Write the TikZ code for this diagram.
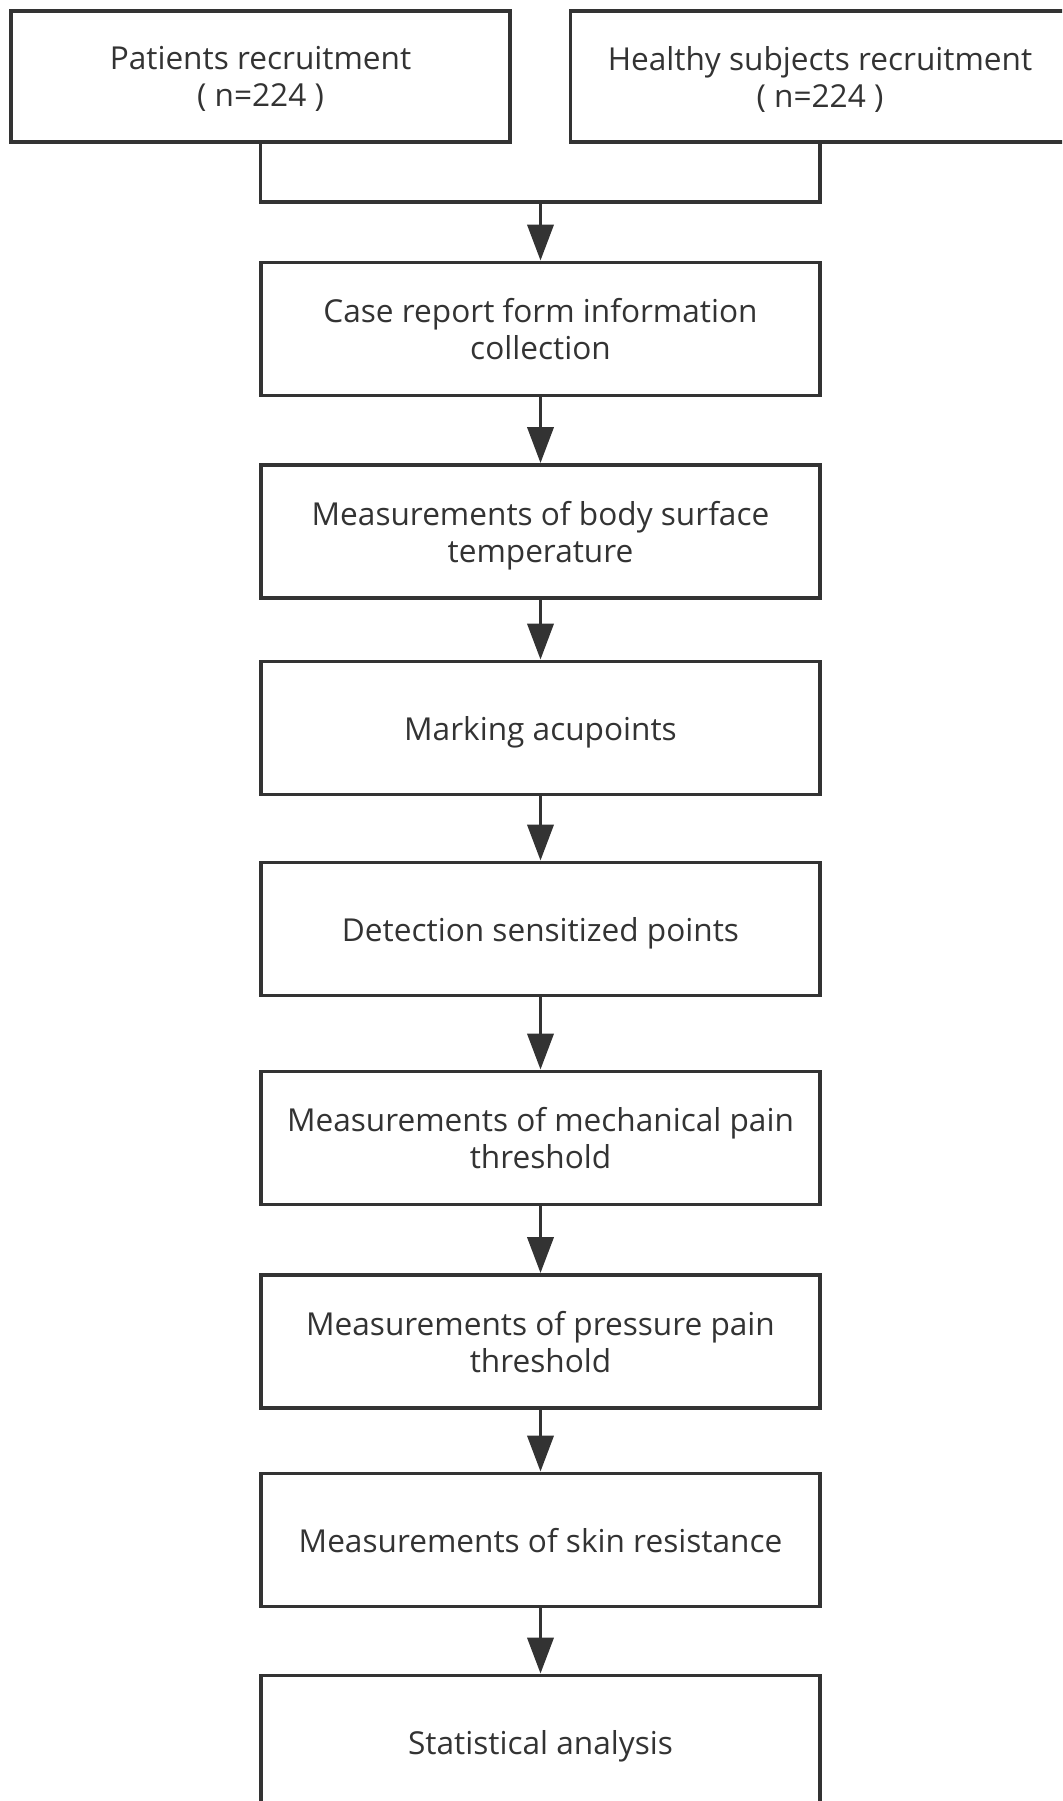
\documentclass[tikz,border=0pt]{standalone}
\usepackage{fontspec}
\setmainfont{Open Sans}
\usetikzlibrary{arrows.meta}
\definecolor{ink}{HTML}{333333}

\begin{document}
\begin{tikzpicture}
      [x = 0.5pt, y = -0.5pt,
      line/.style = {
         draw = ink,
         line width = 1.9pt
      },
      arrow/.style = {
         line,
         -{Triangle[length = 18pt, width = 13pt]}
      },
      stepbox/.style = {
         line,
         rectangle,
         align = center,
         text = ink,
         font = \fontsize{15.8pt}{18.5pt}\selectfont,
         text depth = 0pt,
         inner sep = 0pt,
         minimum width = 279.5pt,
         minimum height = 66.5pt
      },
      groupbox/.style = {
         stepbox,
         minimum width = 249.5pt,
         minimum height = 65.5pt
      }]
      \useasboundingbox (0, 0) rectangle (1062, 1801);
      \clip (0, 0) rectangle (1062, 1801);

      % recruitment
      \node[groupbox] (patients) at (260.5, 76.5) {Patients recruitment\\( n=224 )};
      \node[groupbox] (healthy) at (820, 76.5) {Healthy subjects recruitment\\( n=224 )};

      % procedure
      \node[stepbox] (crf) at (540.5, 329) {Case report form information\\collection};
      \node[stepbox] (temp) at (540.5, 531.5) {Measurements of body surface\\temperature};
      \node[stepbox] (mark) at (540.5, 728) {Marking acupoints};
      \node[stepbox] (detect) at (540.5, 929) {Detection sensitized points};
      \node[stepbox] (mech) at (540.5, 1138) {Measurements of mechanical pain\\threshold};
      \node[stepbox] (press) at (540.5, 1341.5) {Measurements of pressure pain\\threshold};
      \node[stepbox] (skin) at (540.5, 1540) {Measurements of skin resistance};
      \node[stepbox] (stats) at (540.5, 1742) {Statistical analysis};

      \coordinate (join) at (540.5, 202);
      \draw[line] (patients.south) |- (join) -| (healthy.south);
      \draw[arrow] (join) -- (crf.north);
      \draw[arrow] (crf) -- (temp);
      \draw[arrow] (temp) -- (mark);
      \draw[arrow] (mark) -- (detect);
      \draw[arrow] (detect) -- (mech);
      \draw[arrow] (mech) -- (press);
      \draw[arrow] (press) -- (skin);
      \draw[arrow] (skin) -- (stats);
\end{tikzpicture}
\end{document}
